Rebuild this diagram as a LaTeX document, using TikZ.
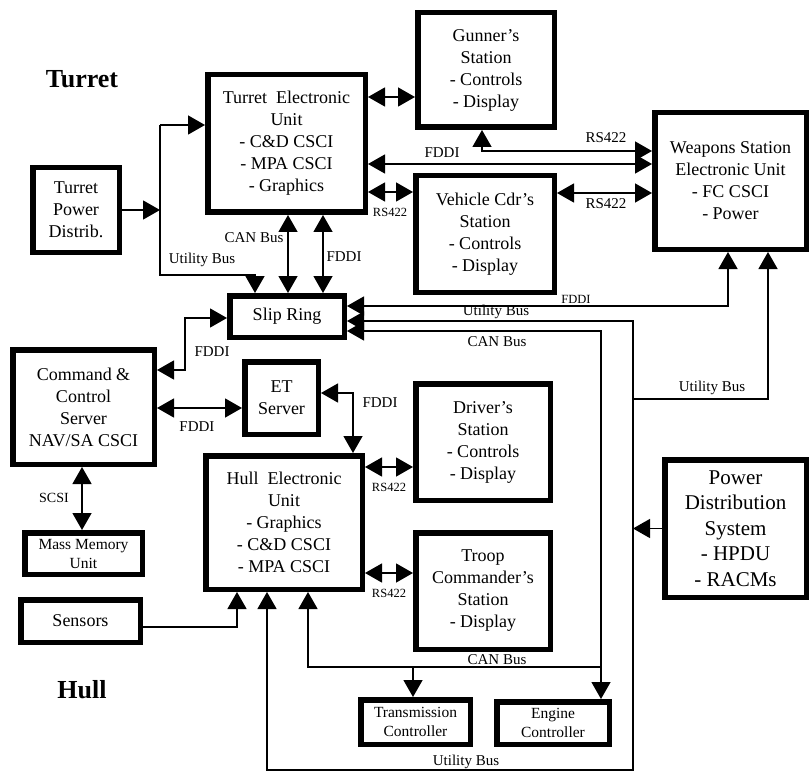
\documentclass[tikz,border=0pt]{standalone}
\usepackage{fontspec}
\setmainfont{Liberation Serif}
\usetikzlibrary{arrows.meta}
\newcommand\unitfont{\fontsize{18}{22}\selectfont}
\newcommand\bigunitfont{\fontsize{21}{25.5}\selectfont}
\newcommand\ctlfont{\fontsize{15.5}{18.5}\selectfont}
\newcommand\busfont{\fontsize{15}{17}\selectfont}
\newcommand\rsfont{\fontsize{12.5}{14}\selectfont}
\newcommand\areafont{\fontsize{26}{30}\selectfont\bfseries}

\begin{document}
\begin{tikzpicture}[x=1pt,y=-1pt,
  unit/.style={draw,line width=5.5pt,fill=white,align=center,inner sep=1pt,font=\unitfont},
  bus/.style={line width=1.4pt},
  lbl/.style={font=\busfont,inner sep=0pt},
  rs/.style={font=\rsfont,inner sep=0pt},
  >={Triangle[length=17pt,width=19pt]}]
\useasboundingbox (0,0) rectangle (812,773);
\node[font=\areafont] (turret) at (82,79) {Turret};
\node[font=\areafont] (hull) at (82,690) {Hull};
\node[unit,minimum width=157.5pt,minimum height=137.5pt] (TEU) at (286.5,143.5) {Turret\enspace Electronic\\Unit\\- C\&D CSCI\\- MPA CSCI\\- Graphics};
\node[unit,minimum width=86.5pt,minimum height=84.5pt] (TPD) at (76,210) {Turret\\Power\\Distrib.};
\node[unit,minimum width=136.5pt,minimum height=114.5pt] (GS) at (486,70) {Gunner's\\Station\\- Controls\\- Display};
\node[unit,minimum width=138.5pt,minimum height=116.5pt] (VCS) at (485,234) {Vehicle Cdr's\\Station\\- Controls\\- Display};
\node[unit,minimum width=151.5pt,minimum height=136.5pt] (WSEU) at (730.5,181) {Weapons Station\\Electronic Unit\\- FC CSCI\\- Power};
\node[unit,minimum width=114.5pt,minimum height=41.5pt] (SR) at (287,316.5) {Slip Ring};
\node[unit,minimum width=141.5pt,minimum height=114.5pt] (CCS) at (83.5,407) {Command \&\\Control\\Server\\NAV/SA CSCI};
\node[unit,minimum width=73.5pt,minimum height=72.5pt] (ET) at (281.5,398) {ET\\Server};
\node[unit,minimum width=156.5pt,minimum height=133.5pt] (HEU) at (284,522.5) {Hull\enspace Electronic\\Unit\\- Graphics\\- C\&D CSCI\\- MPA CSCI};
\node[unit,minimum width=134.5pt,minimum height=116.5pt] (DS) at (483,442) {Driver's\\Station\\- Controls\\- Display};
\node[unit,minimum width=134.5pt,minimum height=116.5pt] (TCS) at (483,591) {Troop\\Commander's\\Station\\- Display};
\node[unit,minimum width=117.5pt,minimum height=41.5pt,font=\fontsize{15.5}{19}\selectfont] (MMU) at (83.5,553.5) {Mass Memory\\Unit};
\node[unit,minimum width=119.5pt,minimum height=42.5pt] (Sensors) at (80.5,621) {Sensors};
\node[unit,minimum width=109.5pt,minimum height=44.5pt,font=\ctlfont] (TC) at (415.5,722) {Transmission\\Controller};
\node[unit,minimum width=112.5pt,minimum height=42.5pt,font=\ctlfont] (EC) at (553,723) {Engine\\Controller};
\node[unit,minimum width=141.5pt,minimum height=137.5pt,font=\bigunitfont] (PDS) at (735.5,528.5) {Power\\Distribution\\System\\- HPDU\\- RACMs};

\coordinate (pbus) at (160,125);
\coordinate (ubus) at (160,275);
\coordinate (ut) at (255,275);
\coordinate (tcan) at (288,250);
\coordinate (tfddi) at (323,250);
\coordinate (tgs) at (390,97);
\coordinate (tws) at (500,164);
\coordinate (gsw) at (482,151);
\coordinate (tvc) at (390,192);
\coordinate (vcw) at (600,193);
\coordinate (wsf) at (728,306);
\coordinate (uba) at (633,321);
\coordinate (ubw) at (768,399);
\coordinate (ubb) at (633,770);
\coordinate (ubh) at (267,770);
\coordinate (cana) at (601,331);
\coordinate (canb) at (601,667);
\coordinate (canh) at (308,667);
\coordinate (cant) at (413,667);
\coordinate (csa) at (185,370);
\coordinate (csb) at (185,318);
\coordinate (cse) at (200,408);
\coordinate (eth) at (353,393);
\coordinate (mmx) at (82,500);
\coordinate (hds) at (390,467);
\coordinate (hts) at (390,573);
\coordinate (sns) at (237,627);

\draw[bus,->] (TPD.east) -- (TPD.east -| pbus);
\draw[bus,->] (pbus) -- (TEU.west |- pbus);
\draw[bus,->] (pbus) -- (ubus) -- (ut) -- (SR.north -| ut);
\draw[bus,<->] (TEU.south -| tcan) -- (SR.north -| tcan);
\draw[bus,<->] (TEU.south -| tfddi) -- (SR.north -| tfddi);
\draw[bus,<->] (TEU.east |- tgs) -- (GS.west |- tgs);
\draw[bus,<->] (TEU.east |- tws) -- (WSEU.west |- tws);
\draw[bus,<->] (GS.south -| gsw) -- (gsw) -- (WSEU.west |- gsw);
\draw[bus,<->] (TEU.east |- tvc) -- (VCS.west |- tvc);
\draw[bus,<->] (VCS.east |- vcw) -- (WSEU.west |- vcw);
\draw[bus,<->] (SR.east |- wsf) -- (wsf) -- (WSEU.south -| wsf);
\draw[bus,<->] (SR.east |- uba) -- (uba) -- (ubb) -- (ubh) -- (HEU.south -| ubh);
\draw[bus,->] (uba |- ubw) -- (ubw) -- (WSEU.south -| ubw);
\draw[bus,->] (PDS.west) -- (PDS.west -| uba);
\draw[bus,<->] (SR.east |- cana) -- (cana) -- (EC.north -| cana);
\draw[bus,->] (canb) -- (canh) -- (HEU.south -| canh);
\draw[bus,->] (cant) -- (TC.north -| cant);
\draw[bus,<->] (CCS.east |- csa) -- (csa) -- (csb) -- (SR.west |- csb);
\draw[bus,<->] (CCS.east |- cse) -- (ET.west |- cse);
\draw[bus,<->] (ET.east |- eth) -- (eth) -- (HEU.north -| eth);
\draw[bus,<->] (CCS.south -| mmx) -- (MMU.north -| mmx);
\draw[bus,<->] (HEU.east |- hds) -- (DS.west |- hds);
\draw[bus,<->] (HEU.east |- hts) -- (TCS.west |- hts);
\draw[bus,->] (Sensors.east |- sns) -- (sns) -- (HEU.south -| sns);

\node[lbl] (lcan1) at (254,238) {CAN Bus};
\node[lbl] (lfd1) at (344,257) {FDDI};
\node[lbl] (lub1) at (202,260) {Utility Bus};
\node[lbl] (lfd2) at (442,153) {FDDI};
\node[lbl] (lrs1) at (606,138) {RS422};
\node[rs] (lrs2) at (390,212) {RS422};
\node[lbl] (lrs3) at (606,204) {RS422};
\node[rs] (lfd3) at (576,299) {FDDI};
\node[lbl] (lub2) at (496,312) {Utility Bus};
\node[lbl] (lcan2) at (497,342) {CAN Bus};
\node[lbl] (lub3) at (712,388) {Utility Bus};
\node[lbl] (lfd4) at (212,352) {FDDI};
\node[lbl] (lfd5) at (197,427) {FDDI};
\node[lbl] (lfd6) at (380,403) {FDDI};
\node[rs,font=\fontsize{14}{16}\selectfont] (lscsi) at (54,498) {SCSI};
\node[rs] (lrs4) at (389,487) {RS422};
\node[rs] (lrs5) at (389,593) {RS422};
\node[lbl] (lcan3) at (497,660) {CAN Bus};
\node[lbl] (lub4) at (466,762) {Utility Bus};
\end{tikzpicture}
\end{document}
